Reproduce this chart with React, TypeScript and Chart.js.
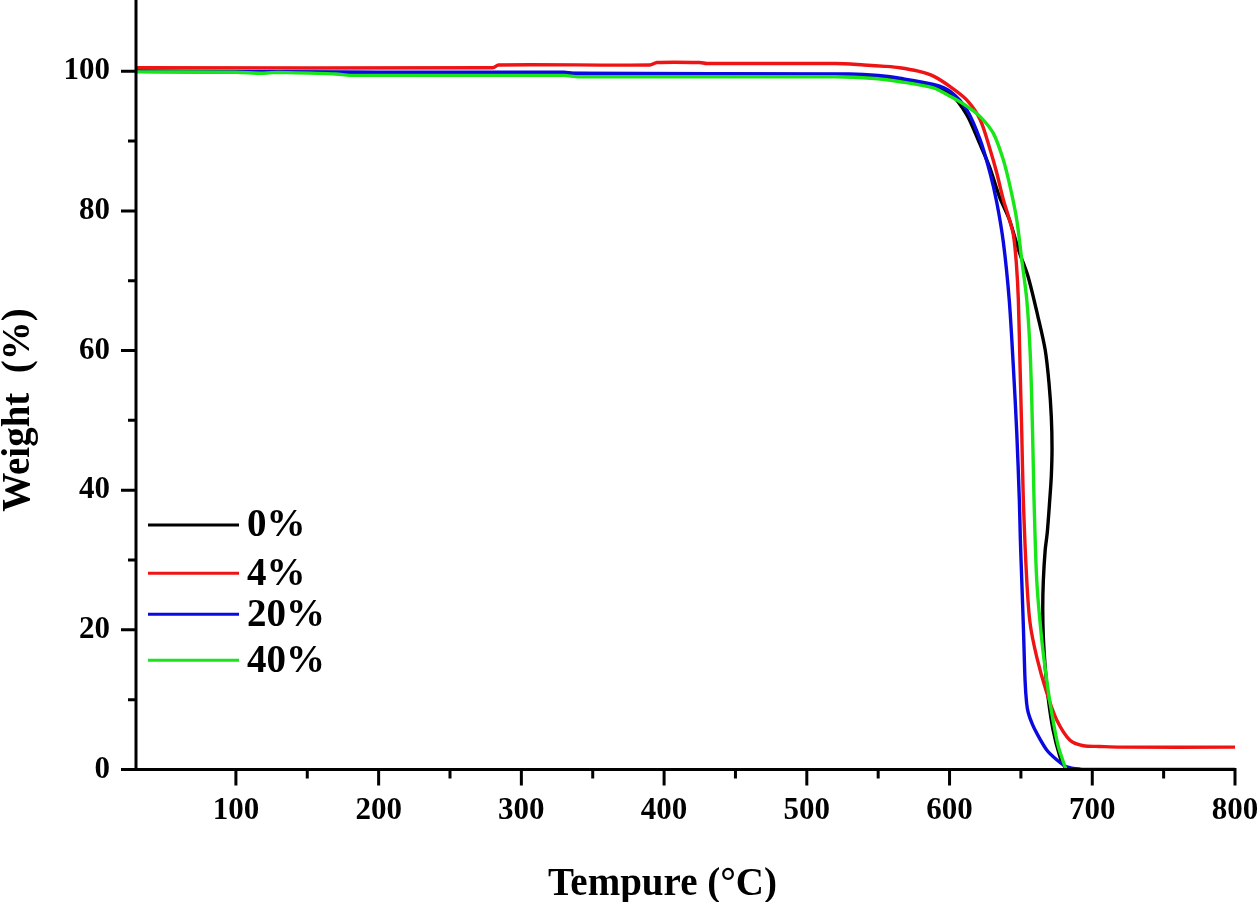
import React, { useEffect, useRef } from 'react';
import { Chart, registerables } from 'chart.js';

Chart.register(...registerables);

// ---------- data ----------
const seriesLabels = ['0%', '4%', '20%', '40%'];
const seriesColors = ['#000000', '#ee1414', '#0a0ae0', '#18e618'];

const temp0 = [30, 100, 200, 300, 400, 500, 540, 565, 588, 600, 612, 621, 628, 635, 642, 649, 655, 662, 667, 669.7, 671.3, 671.8, 671.3, 670.2, 668.5, 667, 665.7, 665.3, 665.7, 667, 669, 672.5, 677.4, 680.9, 682];
const weight0 = [100.0, 99.9, 99.8, 99.7, 99.6, 99.5, 99.3, 98.8, 97.8, 96.9, 93.8, 89.7, 86.3, 82.0, 78.7, 74.0, 70.6, 64.8, 60.1, 55.3, 50.5, 46, 42, 38.6, 34, 31.4, 27, 23, 19, 14.7, 10.4, 5.7, 1.8, 0.3, 0];

const temp4 = [30, 280, 284, 390, 395, 425, 430, 520, 540, 555, 565, 578, 588.7, 600.4, 612, 621.4, 628.4, 633, 637.7, 641, 644.7, 646.8, 648.2, 649.4, 650.6, 651.7, 654.1, 656.4, 661.1, 668.1, 675.1, 684.4, 693.8, 705, 720, 800];
const weight4 = [100.5, 100.5, 100.9, 100.9, 101.25, 101.25, 101.1, 101.1, 100.9, 100.7, 100.5, 100.0, 99.3, 97.8, 95.9, 93.1, 88.8, 85.5, 81.6, 79.4, 76.6, 72.5, 67.3, 57.7, 48.2, 38.6, 27.1, 21, 16.1, 11, 7.1, 4.2, 3.4, 3.3, 3.2, 3.2];

const temp20 = [30, 200, 330, 336, 530, 550, 565, 588.7, 600.4, 612, 621.4, 628.4, 633.1, 637.7, 641.8, 644.7, 647.1, 648.9, 649.6, 650.6, 651.8, 652.9, 654, 655.2, 658, 661.1, 668.1, 675.1, 682.1, 691.5, 700, 800];
const weight20 = [100.0, 99.85, 99.85, 99.7, 99.6, 99.4, 99.0, 98.1, 97.1, 94.5, 90.2, 85.4, 81.2, 75.5, 67.3, 57.7, 48.2, 38.6, 33, 27.1, 20, 12.8, 9.5, 8.1, 6.5, 5.2, 2.8, 1.4, 0.4, 0.05, 0, 0];

const temp40 = [30, 100, 118, 125, 135, 170, 180, 330, 340, 520, 545, 565.3, 588.7, 600.4, 612, 621.4, 630.7, 637.7, 642.4, 647.1, 650.6, 654.1, 656.4, 657.6, 658.7, 659.2, 661.1, 664.6, 668.1, 671.6, 676.2, 681.6];
const weight40 = [99.9, 99.85, 99.7, 99.8, 99.8, 99.6, 99.4, 99.4, 99.2, 99.2, 99.0, 98.5, 97.6, 96.4, 95.0, 93.5, 91.1, 87.3, 83.5, 78.7, 73.0, 67.3, 60.1, 52.9, 43.4, 38.6, 27.1, 18.6, 12.8, 8.1, 3.3, 0];

const seriesTemps = [temp0, temp4, temp20, temp40];
const seriesWeights = [weight0, weight4, weight20, weight40];

const xMin = 30;
const xMax = 800;
const xStep = 50;
const xLabelStep = 100;
const yMin = 0;
const yMax = 110.2;
const yStep = 10;
const yLabelStep = 20;

const xTitle = 'Tempure (°C)';
const yTitle = 'Weight  (%)';

const FONT = "'Liberation Serif', 'Times New Roman', serif";

// ---------- plugins ----------
const axesPlugin = {
  id: 'originAxes',
  afterDatasetsDraw(chart: any) {
    const { ctx, chartArea: a, scales } = chart;
    const x = scales.x;
    const y = scales.y;
    ctx.save();
    ctx.strokeStyle = '#000';
    ctx.lineCap = 'butt';
    ctx.lineWidth = 3;
    ctx.beginPath();
    ctx.moveTo(a.left, a.top);
    ctx.lineTo(a.left, a.bottom + 1.5);
    ctx.moveTo(a.left - 1.5, a.bottom);
    ctx.lineTo(a.right + 1.5, a.bottom);
    x.ticks.forEach((t: any) => {
      const px = x.getPixelForValue(t.value);
      const major = t.value % xLabelStep === 0;
      ctx.moveTo(px, a.bottom);
      ctx.lineTo(px, a.bottom + (major ? 16 : 9));
    });
    y.ticks.forEach((t: any) => {
      const py = y.getPixelForValue(t.value);
      const major = t.value % yLabelStep === 0;
      ctx.moveTo(a.left, py);
      ctx.lineTo(a.left - (major ? 15 : 8), py);
    });
    ctx.stroke();

    // axis titles
    ctx.fillStyle = '#000';
    ctx.font = `bold 39px ${FONT}`;
    ctx.textAlign = 'center';
    ctx.textBaseline = 'alphabetic';
    ctx.fillText(xTitle, a.left + (a.right - a.left) * 0.479, a.bottom + 125);
    ctx.save();
    ctx.translate(a.left - 107, a.top + 410);
    ctx.rotate(-Math.PI / 2);
    ctx.fillText(yTitle, 0, 0);
    ctx.restore();

    // legend
    const rowOffsets = [525, 573.3, 614.3, 660.3];
    const textOffsets = [525.7, 575, 615.5, 662];
    ctx.font = `bold 39px ${FONT}`;
    ctx.textAlign = 'left';
    ctx.textBaseline = 'middle';
    chart.data.datasets.forEach((ds: any, i: number) => {
      ctx.strokeStyle = ds.borderColor;
      ctx.lineWidth = 3;
      ctx.beginPath();
      ctx.moveTo(a.left + 12, a.top + rowOffsets[i]);
      ctx.lineTo(a.left + 103, a.top + rowOffsets[i]);
      ctx.stroke();
      ctx.fillText(ds.label, a.left + 111, a.top + textOffsets[i]);
    });
    ctx.restore();
  },
};

export default function App() {
  const canvasRef = useRef<HTMLCanvasElement | null>(null);

  useEffect(() => {
    document.body.style.margin = '0';
    const canvas = canvasRef.current;
    if (!canvas) return;
    const datasets = seriesLabels.map((label, i) => ({
      label,
      data: seriesTemps[i].map((t, k) => ({ x: t, y: seriesWeights[i][k] })),
      borderColor: seriesColors[i],
      backgroundColor: seriesColors[i],
      borderWidth: 3.4,
      pointRadius: 0,
      showLine: true,
      tension: 0.3,
      order: seriesLabels.length - 1 - i,
    }));

    const chart = new Chart(canvas, {
      type: 'scatter',
      data: { datasets },
      plugins: [axesPlugin],
      options: {
        animation: false,
        responsive: true,
        maintainAspectRatio: false,
        events: [],
        layout: { padding: { top: 0, right: 25, bottom: 0, left: 0 } },
        plugins: {
          legend: { display: false },
          tooltip: { enabled: false },
          title: { display: false },
        },
        scales: {
          x: {
            type: 'linear',
            min: xMin,
            max: xMax,
            border: { display: false },
            grid: { display: true, drawOnChartArea: false, drawTicks: true, tickLength: 16, tickColor: 'rgba(0,0,0,0)' },
            afterBuildTicks: (scale: any) => {
              scale.ticks = scale.ticks.filter((t: any) => t.value % xStep === 0);
            },
            afterFit: (scale: any) => {
              scale.height = 132.5;
              scale.paddingLeft = 0;
              scale.paddingRight = 0;
            },
            ticks: {
              stepSize: xStep,
              autoSkip: false,
              maxRotation: 0,
              padding: 7,
              color: '#000',
              font: { family: FONT, size: 31, weight: 'bold' },
              callback: (v: any) => (Number(v) % xLabelStep === 0 ? String(v) : ''),
            },
          },
          y: {
            type: 'linear',
            min: yMin,
            max: yMax,
            border: { display: false },
            grid: { display: true, drawOnChartArea: false, drawTicks: true, tickLength: 15, tickColor: 'rgba(0,0,0,0)' },
            afterBuildTicks: (scale: any) => {
              scale.ticks = scale.ticks.filter((t: any) => Math.abs(t.value % yStep) < 1e-9);
            },
            afterFit: (scale: any) => {
              scale.width = 136;
              scale.paddingTop = 0;
              scale.paddingBottom = 0;
            },
            ticks: {
              stepSize: yStep,
              autoSkip: false,
              padding: 11,
              color: '#000',
              font: { family: FONT, size: 31, weight: 'bold' },
              callback: (v: any) => (Number(v) % yLabelStep === 0 ? String(v) : ''),
            },
          },
        },
      },
    } as any);
    return () => chart.destroy();
  }, []);

  return (
    <div style={{ position: 'absolute', left: 0, top: 0, width: 1260, height: 902, background: '#fff' }}>
      <canvas ref={canvasRef} />
    </div>
  );
}
